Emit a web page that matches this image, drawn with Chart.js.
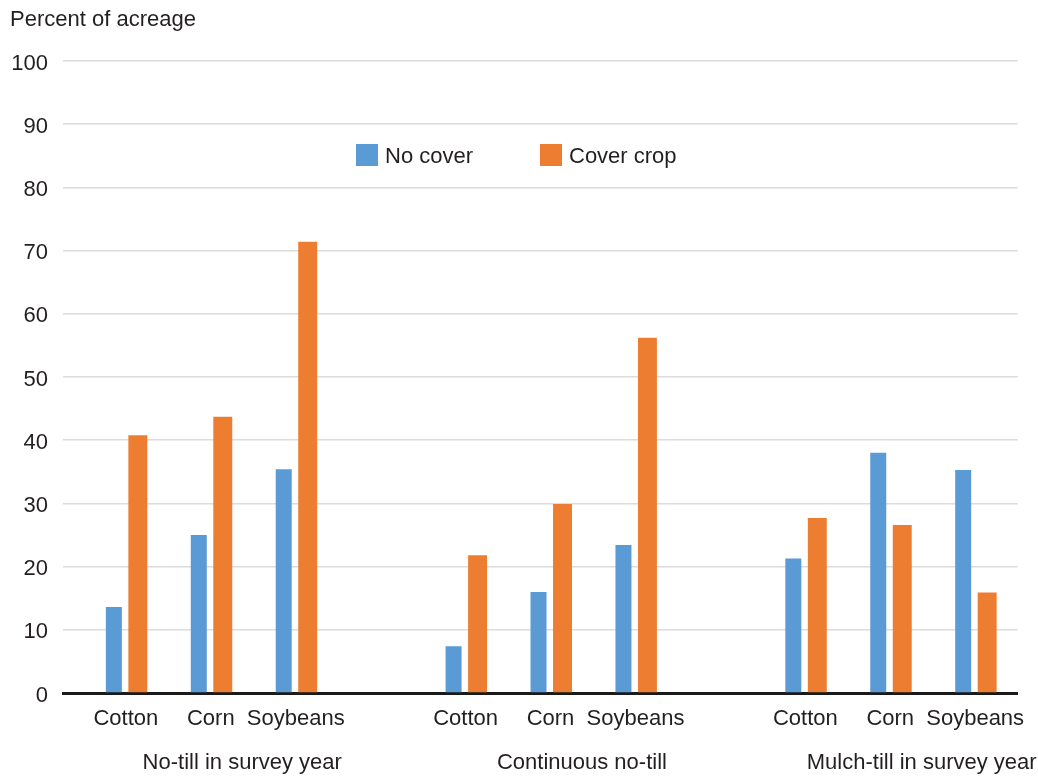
<!DOCTYPE html>
<html>
<head>
<meta charset="utf-8">
<script src="https://cdn.jsdelivr.net/npm/chart.js@4/dist/chart.umd.min.js"></script>
<style>
  html, body { margin: 0; padding: 0; background: #fff; }
  #wrap { width: 1038px; height: 777px; }
</style>
</head>
<body>
<div id="wrap"><canvas id="acreChart" width="1038" height="777"></canvas></div>
<script>
// Data
const slotLabels = ['Cotton', 'Corn', 'Soybeans', '', 'Cotton', 'Corn', 'Soybeans', '', 'Cotton', 'Corn', 'Soybeans'];
const slots = [0, 1, 2, 4, 5, 6, 8, 9, 10];
const groupLabels = ['No-till in survey year', 'Continuous no-till', 'Mulch-till in survey year'];
const groupCenters = [1, 5, 9];
const noCover = [13.6, 25.0, 35.4, 7.4, 16.0, 23.4, 21.3, 38.0, 35.3];
const coverCrop = [40.8, 43.7, 71.4, 21.8, 29.9, 56.2, 27.7, 26.6, 15.9];
const yTicks = [0, 10, 20, 30, 40, 50, 60, 70, 80, 90, 100];

const FONT = '"Liberation Sans", Arial, Helvetica, sans-serif';
const TEXT = '#231f20';
const BLUE = '#5b9bd5';
const ORANGE = '#ed7d31';

const toPoints = vals => vals.map((v, i) => ({ x: slots[i], y: v }));

// legend drawn inside the plot, group names under the crop labels
const extras = {
    id: 'extras',
    afterDraw(chart) {
        const ctx = chart.ctx;
        const xs = chart.scales.x;
        ctx.save();
        ctx.font = '22px ' + FONT;
        ctx.fillStyle = TEXT;
        ctx.textBaseline = 'middle';

        const legendPos = [356, 540];
        chart.data.datasets.forEach((ds, i) => {
            ctx.fillStyle = ds.backgroundColor;
            ctx.fillRect(legendPos[i], 144, 22, 22);
            ctx.fillStyle = TEXT;
            ctx.textAlign = 'left';
            ctx.fillText(ds.label, legendPos[i] + 29, 157);
        });

        ctx.textAlign = 'center';
        groupLabels.forEach((g, i) => {
            ctx.fillText(g, xs.getPixelForValue(groupCenters[i] + 0.37), 763);
        });
        ctx.restore();
    }
};

const chart = new Chart(document.getElementById('acreChart').getContext('2d'), {
    type: 'bar',
    data: {
        datasets: [{
            label: 'No cover',
            data: toPoints(noCover),
            backgroundColor: BLUE,
            barPercentage: 0.667,
            categoryPercentage: 0.565
        }, {
            label: 'Cover crop',
            data: toPoints(coverCrop),
            backgroundColor: ORANGE,
            barPercentage: 0.79,
            categoryPercentage: 0.565
        }]
    },
    options: {
        responsive: false,
        animation: false,
        layout: { padding: { left: 10, right: 20, top: 0, bottom: 0 } },
        plugins: {
            legend: { display: false },
            tooltip: { enabled: false },
            title: {
                display: true,
                text: 'Percent of acreage',
                align: 'start',
                color: TEXT,
                font: { family: FONT, size: 22, weight: 'normal' },
                padding: { top: 7, bottom: 27.6 }
            }
        },
        scales: {
            x: {
                type: 'linear',
                min: -0.74,
                max: 10.5,
                offset: false,
                afterBuildTicks: axis => { axis.ticks = slotLabels.map((_, i) => ({ value: i })); },
                afterFit: axis => { axis.height = 84; },
                grid: { display: false, drawTicks: false },
                border: { display: true, color: '#1a1a1a', width: 3 },
                ticks: {
                    autoSkip: false,
                    maxRotation: 0,
                    padding: 13,
                    color: TEXT,
                    font: { family: FONT, size: 22 },
                    callback: v => slotLabels[v] || ''
                }
            },
            y: {
                min: 0,
                max: 100,
                afterBuildTicks: axis => { axis.ticks = yTicks.map(v => ({ value: v })); },
                afterFit: axis => { axis.width = 53; },
                grid: { color: '#dcdcdc', lineWidth: 1.5, drawTicks: false },
                border: { display: false },
                ticks: {
                    padding: 15,
                    labelOffset: 2.5,
                    color: TEXT,
                    font: { family: FONT, size: 22 }
                }
            }
        }
    },
    plugins: [extras]
});
</script>
</body>
</html>
